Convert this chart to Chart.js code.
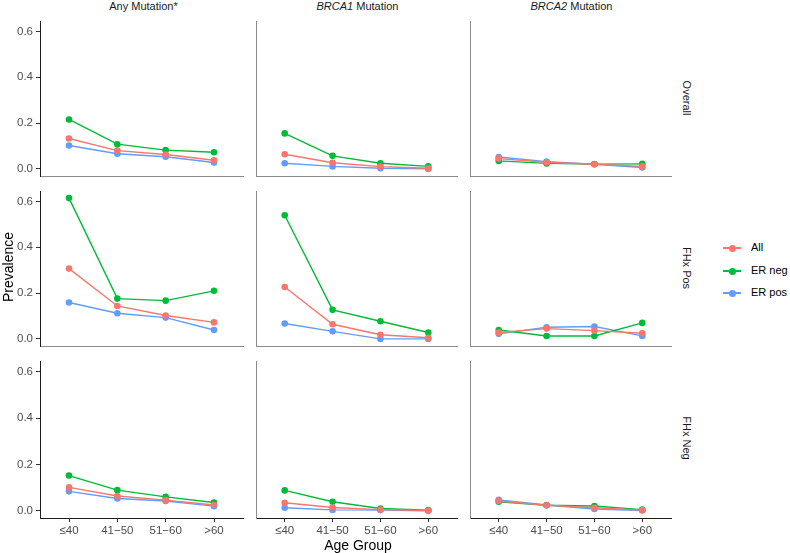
<!DOCTYPE html>
<html>
<head>
<meta charset="utf-8">
<script src="https://cdn.jsdelivr.net/npm/chart.js@4.4.1/dist/chart.umd.min.js"></script>
<style>
    body { margin: 0; background: #fff; font-family: "Liberation Sans", Arial, sans-serif; }
    #wrap { position: relative; width: 790px; height: 553px; overflow: hidden; }
    #wrap canvas { position: absolute; }
    .lbl { position: absolute; white-space: nowrap; transform: translate(-50%, -50%); }
    .strip { font-size: 11px; color: #1a1a1a; }
    .title { font-size: 14px; color: #000; }
    .key { position: absolute; height: 14px; }
    .key .ln { position: absolute; left: 723px; width: 18px; height: 1.5px; }
    .key .dot { position: absolute; left: 728.5px; width: 7px; height: 7px; border-radius: 50%; }
    .key .txt { position: absolute; left: 751px; font-size: 11px; color: #000; white-space: nowrap; }
</style>
</head>
<body>
<div id="wrap"></div>

<script>
/* ---------- data ---------- */
const ageGroups = ["≤40", "41−50", "51−60", ">60"];
const mutations = ["Any Mutation*", "<i>BRCA1</i> Mutation", "<i>BRCA2</i> Mutation"];
const subgroups = ["Overall", "FHx Pos", "FHx Neg"];
const statusNames = ["All", "ER neg", "ER pos"];
const statusColors = ["#F8766D", "#00BA38", "#619CFF"];
const yTicks = [0, 0.2, 0.4, 0.6];

// [row: Overall / FHx Pos / FHx Neg][col: Any / BRCA1 / BRCA2][age group]
const prevAll = [
    [[0.133, 0.080, 0.063, 0.038], [0.064, 0.027, 0.010, 0.003], [0.045, 0.029, 0.020, 0.011]],
    [[0.307, 0.144, 0.102, 0.072], [0.227, 0.064, 0.018, 0.005], [0.028, 0.045, 0.036, 0.025]],
    [[0.101, 0.064, 0.046, 0.025], [0.035, 0.014, 0.005, 0.001], [0.042, 0.024, 0.013, 0.003]]
];
const prevERneg = [
    [[0.216, 0.108, 0.082, 0.073], [0.155, 0.057, 0.025, 0.011], [0.035, 0.024, 0.021, 0.022]],
    [[0.615, 0.176, 0.167, 0.210], [0.540, 0.127, 0.077, 0.028], [0.039, 0.013, 0.013, 0.070]],
    [[0.152, 0.089, 0.060, 0.036], [0.088, 0.039, 0.010, 0.003], [0.039, 0.024, 0.021, 0.005]]
];
const prevERpos = [
    [[0.102, 0.066, 0.053, 0.028], [0.025, 0.011, 0.003, 0.000], [0.052, 0.032, 0.020, 0.006]],
    [[0.159, 0.112, 0.093, 0.039], [0.067, 0.033, 0.000, 0.000], [0.022, 0.051, 0.054, 0.013]],
    [[0.084, 0.053, 0.042, 0.020], [0.013, 0.004, 0.003, 0.000], [0.047, 0.025, 0.008, 0.001]]
];
const seriesVals = [prevAll, prevERneg, prevERpos];

/* ---------- layout ---------- */
const panelLeft = [40, 254, 468];
const panelTop = [17, 187, 357];
const panelW = 207;
const panelH = 161;
const wrap = document.getElementById("wrap");

function addLabel(html, cls, x, y, rot) {
    const d = document.createElement("div");
    d.className = "lbl " + cls;
    d.innerHTML = html;
    d.style.left = x + "px";
    d.style.top = y + "px";
    if (rot) d.style.transform = "translate(-50%, -50%) rotate(" + rot + "deg)";
    wrap.appendChild(d);
}

/* ---------- panels ---------- */
function makePanel(r, c) {
    const leftExtra = c === 0 ? 40 : 2;
    const bottomExtra = r === 2 ? 30 : 2;
    const canvas = document.createElement("canvas");
    canvas.width = panelW + leftExtra;
    canvas.height = panelH + bottomExtra;
    canvas.style.left = (panelLeft[c] - leftExtra) + "px";
    canvas.style.top = panelTop[r] + "px";
    wrap.appendChild(canvas);

    const datasets = seriesVals.map((vals, s) => ({
        label: statusNames[s],
        data: vals[r][c].map((v, i) => ({ x: i, y: v })),
        borderColor: statusColors[s],
        backgroundColor: statusColors[s],
        borderWidth: 1.4,
        pointRadius: 3.3,
        pointBorderWidth: 0,
        tension: 0
    }));

    const showY = c === 0;
    const showX = r === 2;

    new Chart(canvas, {
        type: "line",
        data: { datasets },
        options: {
            responsive: false,
            animation: false,
            devicePixelRatio: 1,
            layout: { padding: 0 },
            plugins: { legend: { display: false }, tooltip: { enabled: false } },
            scales: {
                x: {
                    type: "linear",
                    min: -0.6,
                    max: 3.6,
                    afterBuildTicks: s => { s.ticks = ageGroups.map((g, i) => ({ value: i })); },
                    afterFit: s => { s.height = bottomExtra; s.paddingLeft = 0; s.paddingRight = 0; },
                    border: { display: true, color: showX ? "#1a1a1a" : "#8c8c8c", width: 1 },
                    grid: { display: showX, drawOnChartArea: false, drawTicks: true, tickLength: 4, color: "#333" },
                    ticks: {
                        display: showX,
                        autoSkip: false,
                        maxRotation: 0,
                        padding: 2,
                        color: "#4d4d4d",
                        font: { family: "Liberation Sans", size: 11.5 },
                        callback: v => ageGroups[v]
                    }
                },
                y: {
                    type: "linear",
                    min: -0.031,
                    max: 0.646,
                    afterBuildTicks: s => { s.ticks = yTicks.map(v => ({ value: v })); },
                    afterFit: s => { s.width = leftExtra; s.paddingTop = 0; s.paddingBottom = 0; },
                    border: { display: true, color: showY ? "#1a1a1a" : "#8c8c8c", width: 1 },
                    grid: { display: showY, drawOnChartArea: false, drawTicks: true, tickLength: 4, color: "#333" },
                    ticks: {
                        display: showY,
                        padding: 3,
                        color: "#4d4d4d",
                        font: { family: "Liberation Sans", size: 11.5 },
                        callback: v => v.toFixed(1)
                    }
                }
            }
        }
    });
}

for (let r = 0; r < 3; r++) {
    for (let c = 0; c < 3; c++) makePanel(r, c);
}

/* ---------- strips, titles, legend ---------- */
mutations.forEach((m, c) => addLabel(m, "strip", panelLeft[c] + panelW / 2, 6));
subgroups.forEach((g, r) => addLabel(g, "strip", 687, panelTop[r] + panelH / 2, 90));
addLabel("Prevalence", "title", 8, 267, -90);
addLabel("Age Group", "title", 358, 545);

const keyY = [248, 271, 293];
statusNames.forEach((name, s) => {
    const k = document.createElement("div");
    k.className = "key";
    k.style.top = (keyY[s] - 7) + "px";
    k.style.left = "0px";
    k.innerHTML =
        '<div class="ln" style="top:6.25px;background:' + statusColors[s] + '"></div>' +
        '<div class="dot" style="top:3.5px;background:' + statusColors[s] + '"></div>' +
        '<div class="txt" style="top:0px">' + name + "</div>";
    wrap.appendChild(k);
});
</script>
</body>
</html>
